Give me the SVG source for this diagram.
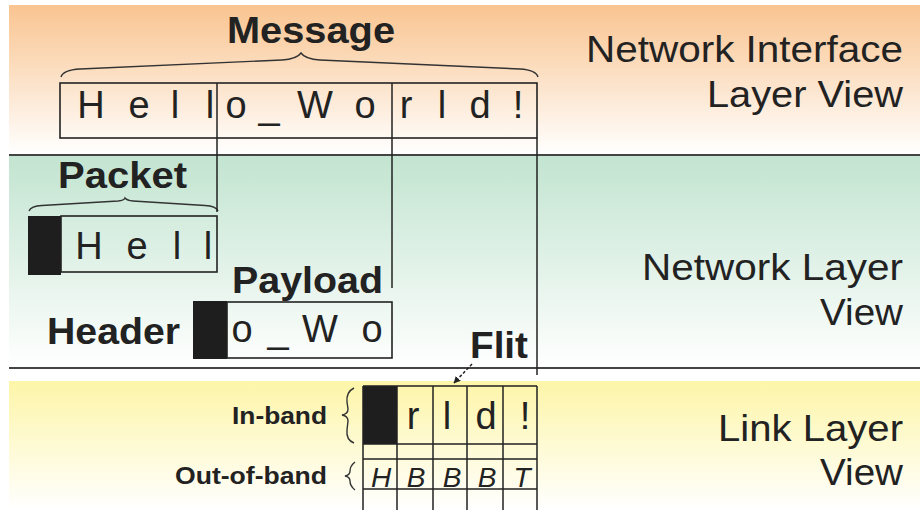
<svg xmlns="http://www.w3.org/2000/svg" width="920" height="510" viewBox="0 0 920 510">
  <defs>
    <linearGradient id="gOrange" x1="0" y1="0" x2="0" y2="1">
      <stop offset="0" stop-color="#f9c490"/>
      <stop offset="1" stop-color="#ffffff"/>
    </linearGradient>
    <linearGradient id="gGreen" x1="0" y1="0" x2="0" y2="1">
      <stop offset="0" stop-color="#c2e4d0"/>
      <stop offset="1" stop-color="#ffffff"/>
    </linearGradient>
    <linearGradient id="gYellow" x1="0" y1="0" x2="0" y2="1">
      <stop offset="0" stop-color="#fdf5a8"/>
      <stop offset="1" stop-color="#ffffff"/>
    </linearGradient>
    <marker id="arrow" viewBox="0 0 10 10" refX="9" refY="5" markerWidth="7" markerHeight="7" orient="auto" markerUnits="userSpaceOnUse">
      <path d="M0,0 L10,5 L0,10 z" fill="#222"/>
    </marker>
    <style>
      .band-line { stroke: #444; stroke-width: 2; fill: none; }
      .box { fill: none; stroke: #222; stroke-width: 1.6; }
      .hdr { fill: #1e1e1e; }
      .rule { stroke: #222; stroke-width: 1.5; fill: none; }
      .brace { stroke: #333; stroke-width: 1.4; fill: none; }
      .chr { font-family: "Liberation Sans", Arial, sans-serif; font-size: 38px; fill: #222; text-anchor: middle; }
      .ital { font-family: "Liberation Sans", Arial, sans-serif; font-size: 28px; font-style: italic; fill: #222; text-anchor: middle; }
      .lbl { font-family: "Liberation Sans", Arial, sans-serif; font-weight: bold; font-size: 36px; fill: #222; }
      .small { font-family: "Liberation Sans", Arial, sans-serif; font-weight: bold; font-size: 24px; fill: #222; text-anchor: end; }
      .view { font-family: "Liberation Sans", Arial, sans-serif; font-size: 37px; fill: #222; text-anchor: end; }
    </style>
  </defs>

  <!-- layer bands -->
  <g id="bands">
    <rect x="9" y="5" width="911" height="149" fill="url(#gOrange)"/>
    <rect x="9" y="155" width="911" height="213" fill="url(#gGreen)"/>
    <rect x="9" y="381" width="911" height="129" fill="url(#gYellow)"/>
    <line class="band-line" x1="9" y1="155" x2="920" y2="155"/>
    <line class="band-line" x1="9" y1="368" x2="920" y2="368"/>
  </g>

  <!-- layer titles -->
  <g id="view-ni">
    <text class="view" x="903" y="62" textLength="317" lengthAdjust="spacingAndGlyphs">Network Interface</text>
    <text class="view" x="903" y="107" textLength="196" lengthAdjust="spacingAndGlyphs">Layer View</text>
  </g>
  <g id="view-net">
    <text class="view" x="903" y="280" textLength="261" lengthAdjust="spacingAndGlyphs">Network Layer</text>
    <text class="view" x="903" y="325" textLength="83" lengthAdjust="spacingAndGlyphs">View</text>
  </g>
  <g id="view-link">
    <text class="view" x="903" y="441" textLength="185" lengthAdjust="spacingAndGlyphs">Link Layer</text>
    <text class="view" x="903" y="485" textLength="83" lengthAdjust="spacingAndGlyphs">View</text>
  </g>

  <!-- whole message -->
  <g id="message">
    <text class="lbl" x="227" y="43" textLength="168" lengthAdjust="spacingAndGlyphs">Message</text>
    <path class="brace" d="M61,77 Q63,70 80,69 L282,60 Q297,59 301,53 Q305,59 320,60 L520,69 Q536,70 538,77"/>
    <rect class="box" x="60" y="83" width="477" height="55"/>
    <line class="rule" x1="217" y1="83" x2="217" y2="138"/>
    <line class="rule" x1="392" y1="83" x2="392" y2="138"/>
    <text class="chr" x="91" y="118">H</text>
    <text class="chr" x="139" y="118">e</text>
    <text class="chr" x="175" y="118">l</text>
    <text class="chr" x="210" y="118">l</text>
    <text class="chr" x="236" y="118">o</text>
    <text class="chr" x="269" y="118">_</text>
    <text class="chr" x="315" y="118">W</text>
    <text class="chr" x="365" y="118">o</text>
    <text class="chr" x="406" y="118">r</text>
    <text class="chr" x="442" y="118">l</text>
    <text class="chr" x="480" y="118">d</text>
    <text class="chr" x="518" y="118">!</text>
  </g>

  <!-- first packet -->
  <g id="packet">
    <text class="lbl" x="58" y="188" textLength="129" lengthAdjust="spacingAndGlyphs">Packet</text>
    <path class="brace" d="M29,211 Q31,206 42,205.5 L118,201 Q124,200.5 125,198 Q127,200.5 133,201 L205,205.5 Q216,206 218,211"/>
    <rect class="hdr" x="28" y="216" width="33" height="59"/>
    <rect class="box" x="61" y="216" width="156" height="56"/>
    <text class="chr" x="89" y="259">H</text>
    <text class="chr" x="137" y="259">e</text>
    <text class="chr" x="177" y="259">l</text>
    <text class="chr" x="208" y="259">l</text>
  </g>

  <!-- second packet: header + payload -->
  <g id="payload-packet">
    <text class="lbl" x="232" y="293" textLength="151" lengthAdjust="spacingAndGlyphs">Payload</text>
    <text class="lbl" x="47" y="344" textLength="133" lengthAdjust="spacingAndGlyphs">Header</text>
    <rect class="hdr" x="193" y="301" width="34" height="58"/>
    <rect class="box" x="227" y="302" width="165" height="56"/>
    <text class="chr" x="242" y="342">o</text>
    <text class="chr" x="278" y="342">_</text>
    <text class="chr" x="320" y="342">W</text>
    <text class="chr" x="372" y="342">o</text>
  </g>

  <!-- flits on the link -->
  <g id="flit">
    <text class="lbl" x="470" y="358" textLength="58" lengthAdjust="spacingAndGlyphs">Flit</text>
    <rect class="hdr" x="363" y="386" width="34" height="58"/>
    <path class="rule" d="M363,386 H537 M363,444 H537 M363,459 H537 M363,489 H537 M363,386 V510 M397,386 V510 M433,386 V510 M467,386 V510 M503,386 V510 M537,386 V510"/>
    <text class="chr" x="413" y="429">r</text>
    <text class="chr" x="447" y="429">l</text>
    <text class="chr" x="486" y="429">d</text>
    <text class="chr" x="525" y="429">!</text>
    <text class="ital" x="381" y="487">H</text>
    <text class="ital" x="416" y="487">B</text>
    <text class="ital" x="452" y="487">B</text>
    <text class="ital" x="487" y="487">B</text>
    <text class="ital" x="522" y="487">T</text>
  </g>

  <g id="band-labels">
    <text class="small" x="327" y="424" textLength="95" lengthAdjust="spacingAndGlyphs">In-band</text>
    <path class="brace" d="M354,388 Q346,392 347,402 L348,409 Q348,414 342,415 Q348,416 348,421 L347,430 Q346,440 354,443"/>
    <text class="small" x="327" y="484" textLength="152" lengthAdjust="spacingAndGlyphs">Out-of-band</text>
    <path class="brace" d="M355,462 Q350,466 350,471 Q350,475 345,476 Q350,477 350,481 Q350,486 355,490"/>
  </g>

  <!-- connectors between the views -->
  <g id="connectors">
    <line class="rule" x1="217" y1="138" x2="217" y2="212"/>
    <line class="rule" x1="392" y1="138" x2="392" y2="288"/>
    <line class="rule" x1="537" y1="138" x2="537" y2="375"/>
    <line class="rule" x1="472" y1="364" x2="454" y2="383" stroke-dasharray="3 2" marker-end="url(#arrow)"/>
  </g>
</svg>
